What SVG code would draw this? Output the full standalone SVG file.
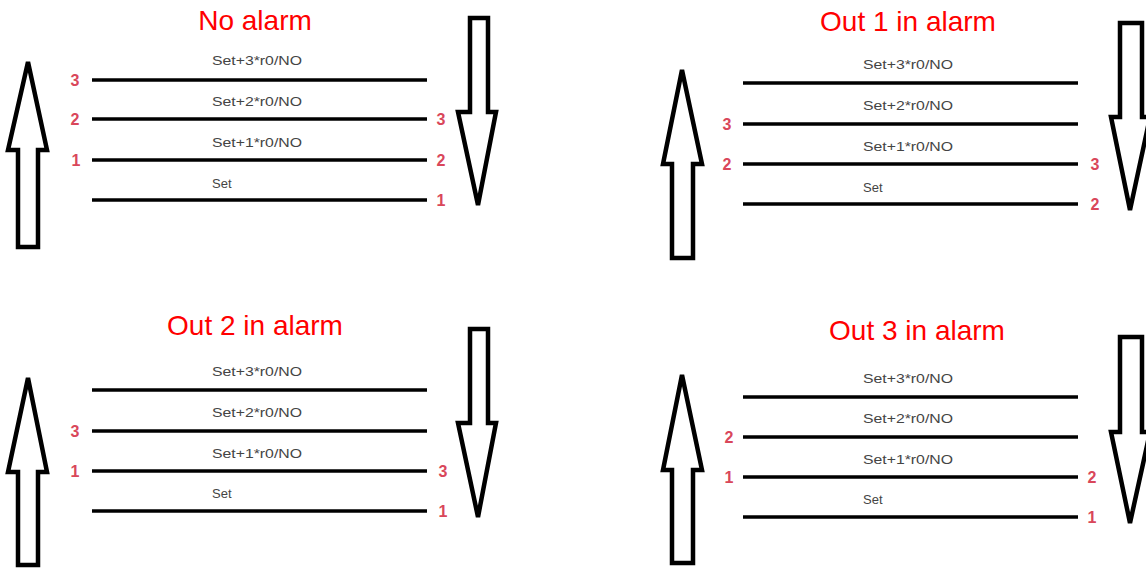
<svg xmlns="http://www.w3.org/2000/svg" width="1146" height="568" viewBox="0 0 1146 568">
<style>
.title{font-family:"Liberation Sans",Arial,sans-serif;font-size:28px;fill:#ff0000;text-anchor:middle}
.lbl{font-family:"Liberation Sans",Arial,sans-serif;font-size:13px;fill:#444}
.num{font-family:"Liberation Sans",Arial,sans-serif;font-size:16px;font-weight:bold;fill:#d9475a;text-anchor:middle}
.lvl{stroke:#000;stroke-width:3.5;fill:none}
.arr{stroke:#000;stroke-width:4.5;fill:#fff;stroke-linejoin:miter}
</style>
<rect width="1146" height="568" fill="#fff"/>

<g id="panel-no-alarm">
<text class="title" x="255" y="30">No alarm</text>
<polygon class="arr" points="28,62 47,150 38,150 38,247 18,247 18,150 8,150"/>
<polygon class="arr" points="470,18 488,18 488,112 496,112 478,205 458,112 470,112"/>
<g class="connectors">
<line class="lvl" x1="92" y1="80" x2="427" y2="80"/>
<line class="lvl" x1="92" y1="119" x2="427" y2="119"/>
<line class="lvl" x1="92" y1="160" x2="427" y2="160"/>
<line class="lvl" x1="92" y1="200" x2="427" y2="200"/>
</g>
<text class="lbl" x="212" y="65" textLength="90" lengthAdjust="spacingAndGlyphs">Set+3*r0/NO</text>
<text class="lbl" x="212" y="106" textLength="90" lengthAdjust="spacingAndGlyphs">Set+2*r0/NO</text>
<text class="lbl" x="212" y="147" textLength="90" lengthAdjust="spacingAndGlyphs">Set+1*r0/NO</text>
<text class="lbl" x="212" y="188">Set</text>
<text class="num" x="75" y="86">3</text>
<text class="num" x="75" y="125">2</text>
<text class="num" x="76" y="166">1</text>
<text class="num" x="441" y="125">3</text>
<text class="num" x="441" y="166">2</text>
<text class="num" x="441" y="206">1</text>
</g>

<g id="panel-out1">
<text class="title" x="908" y="31">Out 1 in alarm</text>
<polygon class="arr" points="682,70 702,164 693,164 693,258 672,258 672,164 663,164"/>
<polygon class="arr" points="1120,23 1142,23 1142,117 1150,117 1130,210 1111,117 1120,117"/>
<g class="connectors">
<line class="lvl" x1="743" y1="83" x2="1078" y2="83"/>
<line class="lvl" x1="743" y1="124" x2="1078" y2="124"/>
<line class="lvl" x1="743" y1="164" x2="1078" y2="164"/>
<line class="lvl" x1="743" y1="204" x2="1078" y2="204"/>
</g>
<text class="lbl" x="863" y="69" textLength="90" lengthAdjust="spacingAndGlyphs">Set+3*r0/NO</text>
<text class="lbl" x="863" y="110" textLength="90" lengthAdjust="spacingAndGlyphs">Set+2*r0/NO</text>
<text class="lbl" x="863" y="151" textLength="90" lengthAdjust="spacingAndGlyphs">Set+1*r0/NO</text>
<text class="lbl" x="863" y="192">Set</text>
<text class="num" x="727" y="130">3</text>
<text class="num" x="727" y="170">2</text>
<text class="num" x="1095" y="170">3</text>
<text class="num" x="1095" y="210">2</text>
</g>

<g id="panel-out2">
<text class="title" x="255" y="335">Out 2 in alarm</text>
<polygon class="arr" points="28,378 47,472 38,472 38,565 18,565 18,472 8,472"/>
<polygon class="arr" points="470,329 488,329 488,423 496,423 478,517 458,423 470,423"/>
<g class="connectors">
<line class="lvl" x1="92" y1="390" x2="427" y2="390"/>
<line class="lvl" x1="92" y1="431" x2="427" y2="431"/>
<line class="lvl" x1="92" y1="471" x2="427" y2="471"/>
<line class="lvl" x1="92" y1="511" x2="427" y2="511"/>
</g>
<text class="lbl" x="212" y="376" textLength="90" lengthAdjust="spacingAndGlyphs">Set+3*r0/NO</text>
<text class="lbl" x="212" y="417" textLength="90" lengthAdjust="spacingAndGlyphs">Set+2*r0/NO</text>
<text class="lbl" x="212" y="458" textLength="90" lengthAdjust="spacingAndGlyphs">Set+1*r0/NO</text>
<text class="lbl" x="212" y="498">Set</text>
<text class="num" x="75" y="437">3</text>
<text class="num" x="75" y="477">1</text>
<text class="num" x="443" y="477">3</text>
<text class="num" x="443" y="517">1</text>
</g>

<g id="panel-out3">
<text class="title" x="917" y="340">Out 3 in alarm</text>
<polygon class="arr" points="682,375 702,470 693,470 693,563 672,563 672,470 663,470"/>
<polygon class="arr" points="1120,337 1142,337 1142,432 1150,432 1130,523 1111,432 1120,432"/>
<g class="connectors">
<line class="lvl" x1="743" y1="397" x2="1078" y2="397"/>
<line class="lvl" x1="743" y1="437" x2="1078" y2="437"/>
<line class="lvl" x1="743" y1="477" x2="1078" y2="477"/>
<line class="lvl" x1="743" y1="517" x2="1078" y2="517"/>
</g>
<text class="lbl" x="863" y="383" textLength="90" lengthAdjust="spacingAndGlyphs">Set+3*r0/NO</text>
<text class="lbl" x="863" y="423" textLength="90" lengthAdjust="spacingAndGlyphs">Set+2*r0/NO</text>
<text class="lbl" x="863" y="464" textLength="90" lengthAdjust="spacingAndGlyphs">Set+1*r0/NO</text>
<text class="lbl" x="863" y="504">Set</text>
<text class="num" x="729" y="443">2</text>
<text class="num" x="729" y="483">1</text>
<text class="num" x="1092" y="483">2</text>
<text class="num" x="1092" y="523">1</text>
</g>
</svg>
